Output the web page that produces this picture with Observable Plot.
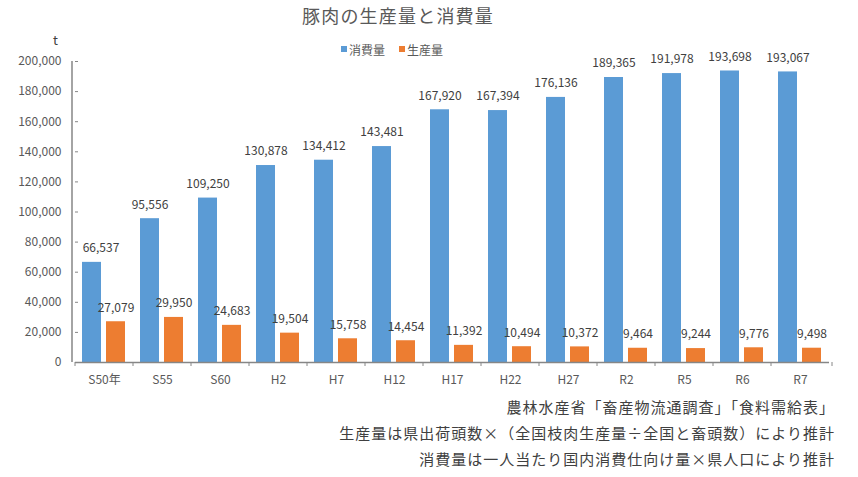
<!DOCTYPE html>
<html>
<head>
<meta charset="utf-8">
<script src="https://cdn.jsdelivr.net/npm/d3@7"></script>
<script src="https://cdn.jsdelivr.net/npm/@observablehq/plot@0.6"></script>
<style>
  body { margin: 0; background: #fff; font-family: "Noto Sans CJK JP", "Noto Sans", sans-serif; }
  #wrap { position: relative; width: 858px; }
  #title { height: 30px; line-height: 30px; text-align: center; padding-right: 62px; font-size: 18px; letter-spacing: 1.2px; color: #595959; }
  #legend { position: absolute; top: 38px; left: 341px; font-size: 12px; color: #595959; white-space: nowrap; }
  #legend span.item { display: inline-flex; align-items: center; margin-right: 14px; }
  #legend span.sw { display: inline-block; width: 6px; height: 6px; margin-right: 2px; }
  #unit { position: absolute; top: 30px; left: 53px; font-size: 13px; color: #404040; }
  #notes { padding-top: 4px; padding-right: 23px; text-align: right; font-size: 15px; line-height: 26px; letter-spacing: 1px; color: #404040; }
  svg { display: block; }
</style>
</head>
<body>
<div id="wrap">
  <div id="title"></div>
  <div id="legend"></div>
  <div id="unit">t</div>
  <div id="chart"></div>
  <div id="notes"></div>
</div>
<script>
const titleText = "豚肉の生産量と消費量";
const categories = ["S50年","S55","S60","H2","H7","H12","H17","H22","H27","R2","R5","R6","R7"];
const seriesNames = ["消費量","生産量"];
const consumption = [66537,95556,109250,130878,134412,143481,167920,167394,176136,189365,191978,193698,193067];
const production = [27079,29950,24683,19504,15758,14454,11392,10494,10372,9464,9244,9776,9498];
const colors = ["#5B9BD5","#ED7D31"];
const yTicks = [0,20000,40000,60000,80000,100000,120000,140000,160000,180000,200000];
const notes = [
  "農林水産省「畜産物流通調査」「食料需給表」",
  "生産量は県出荷頭数×（全国枝肉生産量÷全国と畜頭数）により推計",
  "消費量は一人当たり国内消費仕向け量×県人口により推計"
];

document.getElementById("title").textContent = titleText;
document.getElementById("legend").innerHTML = seriesNames.map((s,i) =>
  `<span class="item"><span class="sw" style="background:${colors[i]}"></span>${s}</span>`).join("");
document.getElementById("notes").innerHTML = notes.map(n => `<div>${n}</div>`).join("");

const rows = [];
categories.forEach((c,i) => {
  rows.push({cat: c, series: seriesNames[0], value: consumption[i], first: i === 0});
  rows.push({cat: c, series: seriesNames[1], value: production[i], first: false});
});
const fmt = d3.format(",");

const plot = Plot.plot({
  width: 858,
  height: 360,
  marginTop: 31,
  marginBottom: 28,
  marginLeft: 72,
  marginRight: 26,
  style: {fontFamily: '"Noto Sans CJK JP", "Noto Sans", sans-serif', fontSize: "12px", color: "#595959", background: "#fff"},
  fx: {domain: categories, padding: 0, label: null},
  x: {domain: seriesNames, paddingInner: 0.2, paddingOuter: 0.27, axis: null},
  y: {domain: [0, 200000], label: null},
  color: {domain: seriesNames, range: colors},
  marks: [
    Plot.axisY({ticks: yTicks, tickFormat: fmt, tickSize: -3, tickPadding: 17, label: null, stroke: "#868686", fill: "#595959", fontSize: 12}),
    Plot.axisFx({anchor: "bottom", tickSize: 0, tickPadding: 13, label: null, fill: "#595959", fontSize: 12}),
    Plot.barY(rows, {fx: "cat", x: "series", y: "value", fill: "series"}),
    Plot.ruleY([0], {stroke: "#868686", strokeWidth: 1.5}),
    // labels; the first one is nudged inside the plot area as in the original
    Plot.text(rows, {filter: d => !d.first, fx: "cat", x: "series", y: "value", text: d => fmt(d.value), dy: -14, fill: "#404040", fontSize: 12}),
    Plot.text(rows, {filter: d => d.first, fx: "cat", x: "series", y: "value", text: d => fmt(d.value), dy: -14, dx: 9, fill: "#404040", fontSize: 12})
  ]
});
document.getElementById("chart").appendChild(plot);

// y-axis line and category boundary ticks from the plot's own scales
const svg = d3.select(plot);
const fx = plot.scale("fx");
const y = plot.scale("y");
const x0 = fx.range[0], x1 = fx.range[1];
const yb = y.apply(0), yt = y.apply(200000);
svg.append("line").attr("x1", x0).attr("x2", x0).attr("y1", yt).attr("y2", yb)
  .attr("stroke", "#868686").attr("stroke-width", 1.5);
const bounds = categories.map(c => fx.apply(c)).concat([x1]);
svg.selectAll("line.cattick").data(bounds).join("line").attr("class", "cattick")
  .attr("x1", d => d).attr("x2", d => d).attr("y1", yb).attr("y2", yb + 4)
  .attr("stroke", "#868686").attr("stroke-width", 1);
</script>
</body>
</html>
